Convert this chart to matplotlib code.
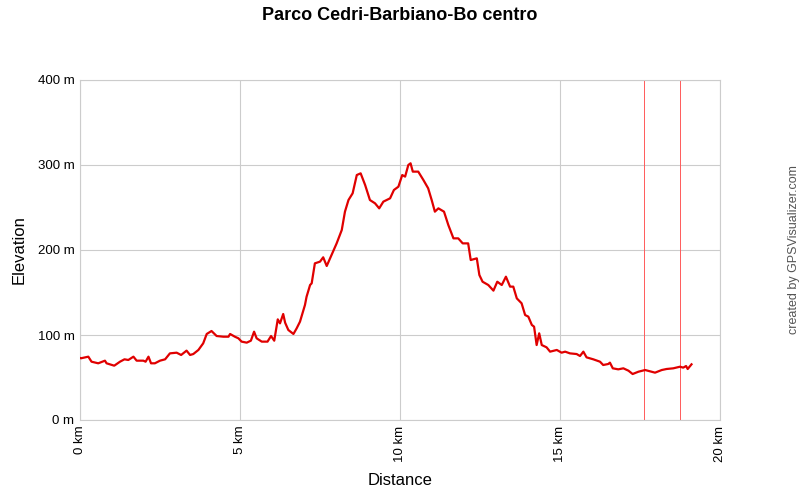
import matplotlib
matplotlib.use("Agg")
import matplotlib.pyplot as plt

plt.rcParams['font.family'] = ['Liberation Sans', 'DejaVu Sans']

distance_km = [0.00, 0.03, 0.26, 0.36, 0.57, 0.78, 0.83, 1.07, 1.25, 1.39, 1.51, 1.67, 1.77, 1.98, 2.05,
               2.14, 2.22, 2.34, 2.50, 2.66, 2.81, 3.02, 3.16, 3.33, 3.44, 3.54, 3.70, 3.85, 3.96, 4.11,
               4.27, 4.48, 4.64, 4.69, 4.84, 4.95, 5.05, 5.21, 5.34, 5.44, 5.52, 5.68, 5.86, 5.97, 6.07,
               6.18, 6.25, 6.35, 6.41, 6.51, 6.67, 6.77, 6.875, 7.03, 7.08, 7.19, 7.24, 7.34, 7.50, 7.60,
               7.71, 7.86, 8.02, 8.18, 8.28, 8.39, 8.52, 8.65, 8.77, 8.91, 9.06, 9.22, 9.35, 9.48, 9.69,
               9.81, 9.95, 10.07, 10.16, 10.26, 10.33, 10.40, 10.57, 10.73, 10.88, 10.99, 11.09, 11.20,
               11.375, 11.51, 11.67, 11.82, 11.96, 12.13, 12.21, 12.40, 12.48, 12.58, 12.76, 12.92,
               13.04, 13.18, 13.31, 13.44, 13.54, 13.65, 13.80, 13.91, 14.01, 14.12, 14.19, 14.27,
               14.35, 14.43, 14.58, 14.69, 14.90, 15.05, 15.16, 15.31, 15.52, 15.625, 15.73, 15.83,
               16.04, 16.25, 16.35, 16.51, 16.56, 16.65, 16.82, 16.98, 17.14, 17.27, 17.45, 17.66,
               17.97, 18.18, 18.33, 18.54, 18.75, 18.85, 18.94, 18.99, 19.11]
elevation_m = [73, 72.6, 74.5, 68.6, 66.7, 69.8, 66.7, 63.9, 68.6, 71.4, 70.6, 74.5, 69.8, 69.8, 68.6,
               74.5, 66.7, 66.7, 69.8, 71.4, 78.4, 79.2, 76.5, 81.6, 76.5, 77.6, 82.4, 90.2, 101.2, 104.7,
               98.8, 98.0, 98.0, 101.2, 98.0, 96.1, 92.2, 91.0, 93.3, 103.9, 96.1, 92.2, 92.2, 98.8, 93.3,
               118.4, 113.7, 124.7, 114.5, 105.9, 101.2, 107.8, 115.7, 135.3, 145, 158.8, 160.8, 184.3, 186.3, 191.4,
               181.2, 194.1, 207.8, 223.5, 245.1, 258.8, 266.7, 288.2, 290.2, 276.5, 258.8, 254.9, 249.0, 256.9, 260.8,
               270.6, 274.5, 288.2, 286.3, 300.0, 302.0, 292.2, 292.2, 282.4, 272.6, 258.8, 245.1, 249.0,
               245.1, 229.4, 213.7, 213.7, 207.8, 207.8, 188.2, 190.2, 170.6, 162.7, 158.8, 152.2,
               162.7, 158.8, 168.6, 156.9, 156.9, 143.1, 137.3, 123.5, 121.6, 111.8, 109.8, 88.2,
               102.0, 88.2, 85.5, 80.4, 82.4, 79.2, 80.4, 78.4, 77.6, 75.3, 80.4, 73.7,
               71.4, 68.6, 64.7, 65.9, 67.5, 60.8, 59.6, 60.8, 58.0, 54.1, 56.8, 58.8,
               55.7, 58.8, 60.0, 60.8, 62.7, 61.6, 63.5, 60.0, 65.5]
marker_km = [17.63, 18.76]

x_ticks = [0, 5, 10, 15, 20]
x_tick_labels = ['0 km', '5 km', '10 km', '15 km', '20 km']
y_ticks = [0, 100, 200, 300, 400]
y_tick_labels = ['0 m', '100 m', '200 m', '300 m', '400 m']

fig = plt.figure(figsize=(8, 5), dpi=100)
ax = fig.add_axes([0.1, 0.16, 0.8, 0.68])

for m in marker_km:
    ax.axvline(m, color='#ff5a5a', linewidth=0.7, zorder=2)
ax.plot(distance_km, elevation_m, color='#e00000', linewidth=1.6, zorder=3)

ax.set_xlim(0, 20)
ax.set_ylim(0, 400)
ax.set_xticks(x_ticks)
ax.set_xticklabels(x_tick_labels, rotation=90, fontsize=9.5)
ax.set_yticks(y_ticks)
ax.set_yticklabels(y_tick_labels, fontsize=9.5)
ax.grid(True, color='#cccccc', linewidth=0.8, zorder=0)
ax.set_axisbelow(True)
for s in ax.spines.values():
    s.set_color('#cccccc')
    s.set_linewidth(0.8)
ax.tick_params(length=0, pad=4)
ax.set_xlabel('Distance', fontsize=12, labelpad=8)
ax.set_ylabel('Elevation', fontsize=12, labelpad=8)

fig.text(0.5, 0.97, 'Parco Cedri-Barbiano-Bo centro', ha='center', va='center',
         fontsize=13, fontweight='bold')
fig.text(0.992, 0.5, 'created by GPSVisualizer.com', rotation=90, ha='center', va='center',
         fontsize=9, color='#555555')

fig.savefig('out.png', dpi=100)
